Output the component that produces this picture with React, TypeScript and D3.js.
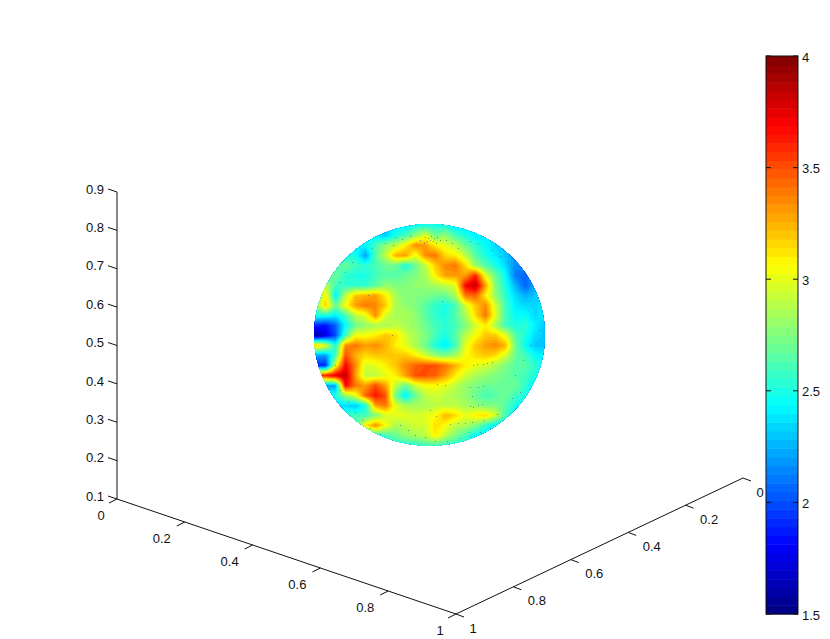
import React, { useMemo } from "react";
import * as d3 from "d3";

// colour values read on a 10px raster of the visible hemisphere (x 315..545, y 225..445)
const r225 = [2.4,2.4,2.4,2.4,2.4,2.4,2.4,2.4,2.4,2.4,2.5,2.5,2.5,2.5,2.4,2.4,2.4,2.4,2.4,2.4,2.4,2.4,2.4,2.4];
const r235 = [2.4,2.4,2.4,2.4,2.4,2.4,2.4,2.3,2.5,2.6,2.8,3.0,2.7,2.8,2.6,2.5,2.4,2.4,2.4,2.4,2.4,2.4,2.4,2.4];
const r245 = [2.4,2.4,2.4,2.4,2.4,2.45,2.6,2.8,2.9,3.1,3.35,3.3,3.1,3.0,2.9,2.7,2.55,2.45,2.35,2.3,2.3,2.3,2.3,2.3];
const r255 = [2.5,2.5,2.5,2.5,2.5,2.2,2.65,2.9,3.25,3.3,3.0,3.35,3.4,3.15,3.1,2.9,2.65,2.5,2.4,2.3,2.2,2.2,2.2,2.2];
const r265 = [2.6,2.6,2.6,2.7,2.6,2.55,2.6,2.7,2.7,2.5,2.7,2.9,3.2,3.35,3.4,3.15,2.8,2.65,2.5,2.35,2.15,2.2,2.2,2.2];
const r275 = [2.6,2.6,2.7,2.55,2.5,2.5,2.6,2.65,2.65,2.7,2.75,2.85,3.1,3.3,3.3,3.3,3.6,3.0,2.7,2.45,2.1,2.05,2.3,2.3];
const r285 = [2.7,2.9,2.6,2.55,2.55,2.55,2.65,2.8,2.75,2.75,2.8,2.8,2.85,2.9,3.0,3.7,3.85,3.3,2.75,2.5,2.25,2.05,2.25,2.4];
const r295 = [2.6,3.1,2.4,2.9,3.2,3.25,3.3,3.1,2.85,2.75,2.75,2.75,2.7,2.7,2.85,3.4,3.45,3.1,2.8,2.55,2.35,2.25,2.3,2.4];
const r305 = [2.7,3.2,2.7,3.05,3.3,3.4,3.35,3.2,2.85,2.8,2.75,2.65,2.55,2.5,2.6,2.95,3.2,3.35,2.95,2.6,2.4,2.35,2.35,2.4];
const r315 = [2.5,2.5,2.4,2.6,2.9,3.0,3.35,2.95,2.85,2.85,2.8,2.65,2.55,2.5,2.65,2.85,3.15,3.4,3.0,2.6,2.45,2.45,2.35,2.4];
const r325 = [1.9,1.85,2.05,2.45,2.7,2.8,2.85,2.85,2.9,2.85,2.8,2.7,2.6,2.55,2.6,2.75,2.95,3.1,2.85,2.6,2.5,2.55,2.4,2.3];
const r335 = [1.6,1.75,2.0,2.6,3.05,3.05,3.1,3.2,3.15,2.95,2.85,2.75,2.6,2.5,2.65,2.9,3.05,3.2,3.2,3.0,2.65,2.5,2.35,2.3];
const r345 = [3.2,3.0,2.5,3.35,3.4,3.3,3.35,3.25,3.1,3.0,2.85,2.7,2.5,2.4,2.6,3.0,3.2,3.3,3.35,3.25,2.7,2.45,2.3,2.3];
const r355 = [2.2,2.2,2.6,3.5,3.25,3.15,3.2,3.2,3.2,3.2,3.1,2.95,2.8,2.75,2.85,3.05,3.15,3.2,3.15,2.95,2.7,2.6,2.45,2.4];
const r365 = [1.9,1.9,3.0,3.7,3.35,2.95,3.0,3.1,3.2,3.35,3.45,3.5,3.5,3.4,3.25,3.1,3.0,2.95,2.85,2.75,2.65,2.65,2.55,2.4];
const r375 = [3.6,3.6,3.75,3.85,3.3,2.9,2.9,3.0,3.1,3.3,3.5,3.5,3.45,3.3,3.1,2.95,2.85,2.8,2.75,2.7,2.65,2.6,2.5,2.4];
const r385 = [2.2,2.2,2.2,3.7,3.4,3.3,3.5,3.3,2.9,2.7,2.95,3.05,3.05,3.0,2.9,2.8,2.75,2.7,2.7,2.7,2.7,2.55,2.4,2.4];
const r395 = [2.5,2.5,2.5,2.8,3.0,3.45,3.65,3.5,2.7,2.4,2.7,2.9,2.95,2.9,2.85,2.8,2.7,2.6,2.65,2.7,2.6,2.5,2.4,2.4];
const r405 = [2.35,2.35,2.35,2.35,2.3,2.5,3.3,3.4,3.0,2.85,2.85,2.85,2.9,2.9,2.9,2.85,2.8,2.75,2.75,2.65,2.5,2.4,2.4,2.4];
const r415 = [2.6,2.6,2.6,2.6,2.6,2.6,2.75,2.95,3.0,3.0,2.95,3.0,3.05,3.25,3.15,3.0,3.1,3.15,2.95,2.6,2.4,2.4,2.4,2.4];
const r425 = [2.6,2.6,2.6,2.6,2.6,3.1,3.35,3.05,2.85,2.9,2.95,2.95,3.15,3.05,2.9,2.85,2.75,2.55,2.4,2.4,2.4,2.4,2.4,2.4];
const r435 = [2.5,2.5,2.5,2.5,2.5,2.5,2.5,2.6,2.7,2.8,2.85,2.9,3.1,2.9,2.75,2.6,2.45,2.4,2.4,2.4,2.4,2.4,2.4,2.4];
const r445 = [2.5,2.5,2.5,2.5,2.5,2.5,2.5,2.5,2.5,2.5,2.55,2.6,2.6,2.55,2.5,2.5,2.4,2.4,2.4,2.4,2.4,2.4,2.4,2.4];
const surfaceRows = [r225,r235,r245,r255,r265,r275,r285,r295,r305,r315,r325,r335,r345,r355,r365,r375,r385,r395,r405,r415,r425,r435,r445];

// dark mesh specks visible on the surface
const specks: [number, number][] = [
  [425,237],[428,238],[431,236],[434,238],[437,237],[427,241],[433,241],[424,243],[436,243],[430,240],[440,240],[420,240],
  [395,237],[402,239],[410,236],[385,243],[393,245],[372,248],[365,250],[352,262],[345,272],[339,282],
  [446,240],[452,243],[458,248],[470,241],[478,243],[492,250],[500,256],[508,262],
  [355,297],[368,295],[442,301],[392,335],[437,384],[473,365],[477,364],[483,364],[487,363],[492,362],
  [470,387],[478,387],[483,386],[472,396],[473,407],[470,406],[478,405],[482,404],
  [436,416],[450,424],[458,423],[465,423],[472,422],[484,420],[497,414],[512,398],[520,392],
  [400,425],[408,430],[415,435],[425,437],[435,441],[447,441],[460,438],[470,436],[480,432],[490,428],[500,422],[510,415],
  [340,390],[348,402],[355,412],[362,420],[370,428],[380,434],[390,440],[335,365],[345,350],[430,410],[445,385],[515,375],[523,360],[530,345],[540,330],
];

const colorbarTicks = [1.5, 2, 2.5, 3, 3.5, 4];
const xTicks = [0, 0.2, 0.4, 0.6, 0.8, 1];
const yTicks = [0, 0.2, 0.4, 0.6, 0.8, 1];
const zTicks = [0.1, 0.2, 0.3, 0.4, 0.5, 0.6, 0.7, 0.8, 0.9];
const COLOR_BINS = 64;

function jet(t: number): string {
  const f = (a: number) => Math.max(0, Math.min(1, 1.5 - Math.abs(4 * t - a)));
  return d3.rgb(f(3) * 255, f(2) * 255, f(1) * 255).formatHex();
}

const font = "'Liberation Sans', Arial, sans-serif";

export default function App() {
  const W = 240, H = 232, X0 = 310, Y0 = 220;
  const colX = d3.scaleLinear([0, 23], [315, 545]);
  const rowY = d3.scaleLinear([0, 22], [225, 445]);
  const binScale = d3.scaleLinear([0, COLOR_BINS], [1.5, 4]);
  const colors = d3.range(COLOR_BINS).map((i) => jet((i + 0.5) / COLOR_BINS));

  const contours = useMemo(() => {
    const vals = new Float64Array(W * H);
    for (let j = 0; j < H; j++) {
      const ry = Math.max(0, Math.min(21.999, rowY.invert(Y0 + j)));
      const r0 = Math.floor(ry), fy = ry - r0;
      for (let i = 0; i < W; i++) {
        const cx = Math.max(0, Math.min(22.999, colX.invert(X0 + i)));
        const c0 = Math.floor(cx), fx = cx - c0;
        const a = surfaceRows[r0], b = surfaceRows[r0 + 1];
        vals[j * W + i] =
          (a[c0] * (1 - fx) + a[c0 + 1] * fx) * (1 - fy) +
          (b[c0] * (1 - fx) + b[c0 + 1] * fx) * fy;
      }
    }
    const levels = d3.range(COLOR_BINS).map((i) => (i === 0 ? 1.4 : binScale(i)));
    return d3.contours().size([W, H]).thresholds(levels)(vals as any);
  }, []);
  const path = d3.geoPath();

  // axes, drawn along the three visible edges of the box
  const xAxisX = d3.scaleLinear([0, 1], [117, 456]);
  const xAxisY = d3.scaleLinear([0, 1], [499, 614]);
  const yAxisX = d3.scaleLinear([0, 1], [743, 456]);
  const yAxisY = d3.scaleLinear([0, 1], [478, 614]);
  const zAxisY = d3.scaleLinear([0.1, 0.9], [499, 192]);
  const cbY = d3.scaleLinear([1.5, 4], [614, 56]);
  const cbBand = d3.scaleBand(d3.range(COLOR_BINS).map(String), [614, 56]);

  const txt = { fontFamily: font, fontSize: 13, fill: "#111" } as const;
  const line = { stroke: "#111", strokeWidth: 1, fill: "none" } as const;

  return (
    <svg width={830} height={639} style={{ position: "absolute", left: 0, top: 0, background: "#fff" }}>
      <defs>
        <clipPath id="sphere">
          <ellipse cx={429.5} cy={335} rx={115.5} ry={111} />
        </clipPath>
      </defs>
      <g clipPath="url(#sphere)">
        <g transform={`translate(${X0},${Y0})`}>
          {contours.map((c, i) => (
            <path key={i} d={path(c as any) || ""} fill={colors[i]} />
          ))}
        </g>
        {specks.map(([x, y], i) => (
          <rect key={i} x={x} y={y} width={1} height={1} fill="#3f6f80" opacity={0.7} />
        ))}
      </g>

      {/* z axis */}
      <line x1={117} x2={117} y1={zAxisY(0.9)} y2={zAxisY(0.1)} {...line} />
      {zTicks.map((t) => (
        <g key={t}>
          <line x1={117} x2={108} y1={zAxisY(t)} y2={zAxisY(t) - 3} {...line} />
          <text x={104} y={zAxisY(t) - 3} dy="0.36em" textAnchor="end" {...txt}>{t}</text>
        </g>
      ))}
      {/* x axis */}
      <line x1={xAxisX(0)} x2={xAxisX(1)} y1={xAxisY(0)} y2={xAxisY(1)} {...line} />
      {xTicks.map((t) => (
        <g key={t}>
          <line x1={xAxisX(t)} x2={xAxisX(t) - 8} y1={xAxisY(t)} y2={xAxisY(t) + 4} {...line} />
          <text x={xAxisX(t) + (String(t).length > 1 ? -23 : -16)} y={xAxisY(t) + 16} dy="0.36em" textAnchor="middle" {...txt}>{t}</text>
        </g>
      ))}
      {/* y axis */}
      <line x1={yAxisX(0)} x2={yAxisX(1)} y1={yAxisY(0)} y2={yAxisY(1)} {...line} />
      {yTicks.map((t) => (
        <g key={t}>
          <line x1={yAxisX(t)} x2={yAxisX(t) + 8} y1={yAxisY(t)} y2={yAxisY(t) + 3} {...line} />
          <text x={yAxisX(t) + (String(t).length > 1 ? 23.5 : 17)} y={yAxisY(t) + 14} dy="0.36em" textAnchor="middle" {...txt}>{t}</text>
        </g>
      ))}

      {/* colour bar */}
      {colors.map((c, i) => (
        <rect key={i} x={766} width={32} y={cbBand(String(i))} height={cbBand.bandwidth() + 0.5} fill={c} />
      ))}
      <rect x={766} y={56} width={32} height={558} {...line} />
      {colorbarTicks.map((t) => (
        <g key={t}>
          <line x1={766} x2={771} y1={cbY(t)} y2={cbY(t)} {...line} />
          <line x1={793} x2={798} y1={cbY(t)} y2={cbY(t)} {...line} />
          <text x={802} y={cbY(t) + 1} dy="0.36em" {...txt}>{t}</text>
        </g>
      ))}
    </svg>
  );
}
